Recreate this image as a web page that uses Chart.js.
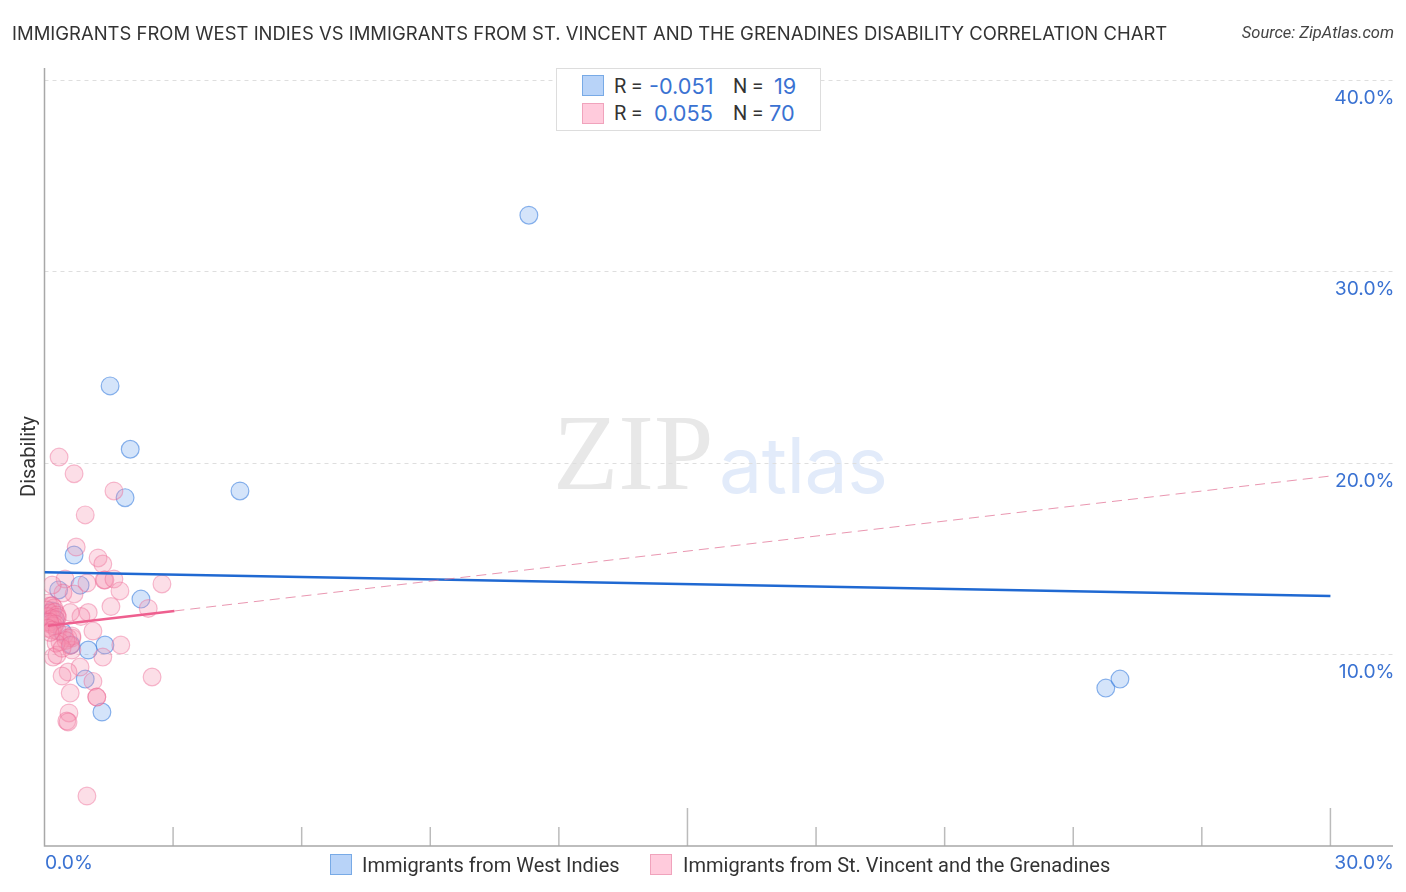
<!DOCTYPE html>
<html><head><meta charset="utf-8">
<script src="https://cdn.jsdelivr.net/npm/chart.js@4"></script>
<style>
html,body{margin:0;padding:0;background:#fff;width:1406px;height:892px;overflow:hidden;font-family:Inter,sans-serif}
canvas{position:absolute;left:0;top:0}
.t{position:absolute;white-space:pre;line-height:1}
.sw{position:absolute;box-sizing:border-box;width:22px;height:21px;border-width:1px;border-style:solid}
.b{background:#b8d3f8;border-color:#78aae6}
.p{background:#ffcbdc;border-color:#f0a3bc}
.v{color:#3a72d2}
.r{font-family:Roboto;color:#333}
</style></head><body>
<div class="t" style="left:553px;top:392px;font:107px 'Liberation Serif';color:#e8e8e8">ZIP</div>
<div class="t" style="left:719px;top:418px;font:400 77px Inter;color:#e2ebfa;letter-spacing:-0.5px">atlas</div>
<canvas id="c" width="1406" height="892"></canvas>
<div class="t" style="left:12px;top:23.5px;font-size:18.48px;color:#333">IMMIGRANTS FROM WEST INDIES VS IMMIGRANTS FROM ST. VINCENT AND THE GRENADINES DISABILITY CORRELATION CHART</div>
<div class="t r" style="right:12px;top:25px;font-size:16.5px;font-style:italic;color:#444">Source: ZipAtlas.com</div>
<div style="position:absolute;left:556px;top:68px;width:265px;height:63px;box-sizing:border-box;background:#fff;border:1px solid #ddd"></div>
<div class="sw b" style="left:582px;top:75px"></div>
<div class="sw p" style="left:582px;top:103px"></div>
<div class="t r" style="left:614px;top:76px;font-size:20px">R =</div>
<div class="t v" style="left:649px;top:76px;font-size:21.7px">-0.051</div>
<div class="t r" style="left:733px;top:76px;font-size:20px">N =</div>
<div class="t v" style="left:774px;top:76px;font-size:21.7px">19</div>
<div class="t r" style="left:614px;top:103px;font-size:20px">R =</div>
<div class="t v" style="left:654px;top:103px;font-size:21.7px">0.055</div>
<div class="t r" style="left:733px;top:103px;font-size:20px">N =</div>
<div class="t v" style="left:769px;top:103px;font-size:21.7px">70</div>
<div class="sw b" style="left:330px;top:854px"></div>
<div class="t r" style="left:362px;top:855px;font-size:20px">Immigrants from West Indies</div>
<div class="sw p" style="left:650px;top:854px"></div>
<div class="t r" style="left:683px;top:855px;font-size:20px">Immigrants from St. Vincent and the Grenadines</div>
<script>
// pixel estimates were converted to data units by eye
const xTickLabels = {0:'0.0%',30:'30.0%'};
const yTicks = [10,20,30,40];
const blueX = [11.30,1.53,2.00,1.88,4.56,0.69,0.83,0.33,2.25,1.41,1.02,0.62,0.95,1.34,24.76,25.09,0.18,0.25,0.42];
const blueY = [32.96,24.04,20.73,18.20,18.55,15.20,13.63,13.38,12.90,10.50,10.24,10.52,8.72,7.00,8.25,8.72,12.28,11.86,11.18];
const pinkX = [0.34,0.69,1.62,0.95,0.74,1.25,1.36,0.48,1.39,1.41,1.62,0.99,1.76,2.74,0.69,0.43,0.18,2.42,1.55,1.02,0.85,0.60,1.13,1.78,0.64,1.36,2.51,0.20,0.29,0.83,0.55,0.41,1.13,0.60,1.22,1.22,0.57,0.52,0.55,0.99,0.64,
 0.08,0.13,0.18,0.22,0.06,0.13,0.25,0.29,0.08,0.18,0.27,0.30,0.04,0.13,0.22,0.25,0.12,0.08,0.18,0.30,0.46,0.55,0.64,0.36,0.50,0.27,0.41,0.60,0.13];
const pinkY = [20.32,19.45,18.55,17.30,15.62,15.05,14.73,13.95,13.90,13.90,13.95,13.74,13.33,13.69,13.17,13.22,13.64,12.41,12.51,12.20,11.99,12.20,11.23,10.50,10.87,9.87,8.83,9.87,9.98,9.35,9.09,8.88,8.60,7.99,7.78,7.78,6.95,6.53,6.48,2.61,10.24,
 12.69,12.54,12.55,12.44,12.33,12.17,12.23,12.07,11.99,11.89,11.81,11.95,11.70,11.60,11.49,11.60,11.70,11.38,11.28,11.23,11.02,10.87,10.97,10.66,10.74,10.60,10.33,10.48,11.16];
const blueLineX = [0,30], blueLineY = [14.3,13.06];
const pinkSolidX = [0.08,3.03], pinkSolidY = [11.51,12.28];
const pinkDashX = [3.03,30], pinkDashY = [12.28,19.33];
const pts=(xs,ys)=>xs.map((x,i)=>({x,y:ys[i]}));
const AX='#a8a8a8', TK='#bbbbbb', LB='#3a72d2';
const frame={id:'frame',
 beforeDatasetsDraw(c){
  const {ctx,scales:{x,y}}=c; ctx.save();
  ctx.strokeStyle=TK; ctx.lineWidth=1.5;
  x.ticks.forEach(t=>{ if(t.value===0||t.value%3!==0)return;
    const px=x.getPixelForValue(t.value);
    const len=(t.value===15||t.value===30)?38:19;
    ctx.beginPath();ctx.moveTo(px,c.chartArea.bottom);ctx.lineTo(px,c.chartArea.bottom-len);ctx.stroke();});
  ctx.strokeStyle=AX;
  ctx.beginPath();
  ctx.moveTo(x.getPixelForValue(0),c.chartArea.top);ctx.lineTo(x.getPixelForValue(0),c.chartArea.bottom);
  ctx.lineTo(c.chartArea.right,c.chartArea.bottom);ctx.stroke();
  ctx.fillStyle=LB;ctx.font='19.3px Inter';ctx.textBaseline='middle';
  ctx.textAlign='left';ctx.fillText(xTickLabels[0],x.getPixelForValue(0)+0.5,863);
  ctx.textAlign='right';ctx.fillText(xTickLabels[30],c.chartArea.right+1,863);
  ctx.restore();
 }};
new Chart(document.getElementById('c'),{
 type:'scatter',
 data:{datasets:[
  {label:'Immigrants from West Indies',data:pts(blueX,blueY),backgroundColor:'rgba(120,170,240,0.32)',borderColor:'rgba(50,120,220,0.55)',borderWidth:1.2,pointRadius:8.9,order:3},
  {label:'Immigrants from St. Vincent and the Grenadines',data:pts(pinkX,pinkY),backgroundColor:'rgba(245,145,175,0.3)',borderColor:'rgba(235,100,145,0.42)',borderWidth:1.2,pointRadius:8.9,order:2},
  {type:'line',label:'b',data:pts(blueLineX,blueLineY),borderColor:'#2069d2',borderWidth:2.5,pointRadius:0,order:1},
  {type:'line',label:'p',data:pts(pinkSolidX,pinkSolidY),borderColor:'#ee5f8f',borderWidth:2.5,pointRadius:0,order:0},
  {type:'line',label:'pd',data:pts(pinkDashX,pinkDashY),borderColor:'rgba(225,115,150,0.75)',borderWidth:1,borderDash:[10,6],pointRadius:0,order:0}
 ]},
 options:{responsive:false,animation:false,
  layout:{padding:{left:44.5,top:68,right:13,bottom:46}},
  plugins:{legend:{display:false},tooltip:{enabled:false}},
  scales:{
   x:{type:'linear',min:0,max:31.46,border:{display:false},grid:{display:false},
      afterFit(s){s.height=0},
      ticks:{stepSize:3,display:false,autoSkip:false}},
   y:{type:'linear',position:'right',min:0,max:40.65,border:{display:false,dash:[4,4]},
      afterFit(s){s.width=0},
      afterBuildTicks(s){s.ticks=yTicks.map(v=>({value:v}))},
      grid:{drawTicks:false,color:'#dedede',lineWidth:1},
      ticks:{mirror:true,padding:1.5,labelOffset:17.5,color:LB,font:{family:'Inter',size:19.3},callback:v=>v.toFixed(1)+'%'}}
  }},
 plugins:[frame]
});
</script>
<div class="t r" style="left:18px;top:497px;font-size:20px;transform-origin:0 0;transform:rotate(-90deg)">Disability</div>
</body></html>
